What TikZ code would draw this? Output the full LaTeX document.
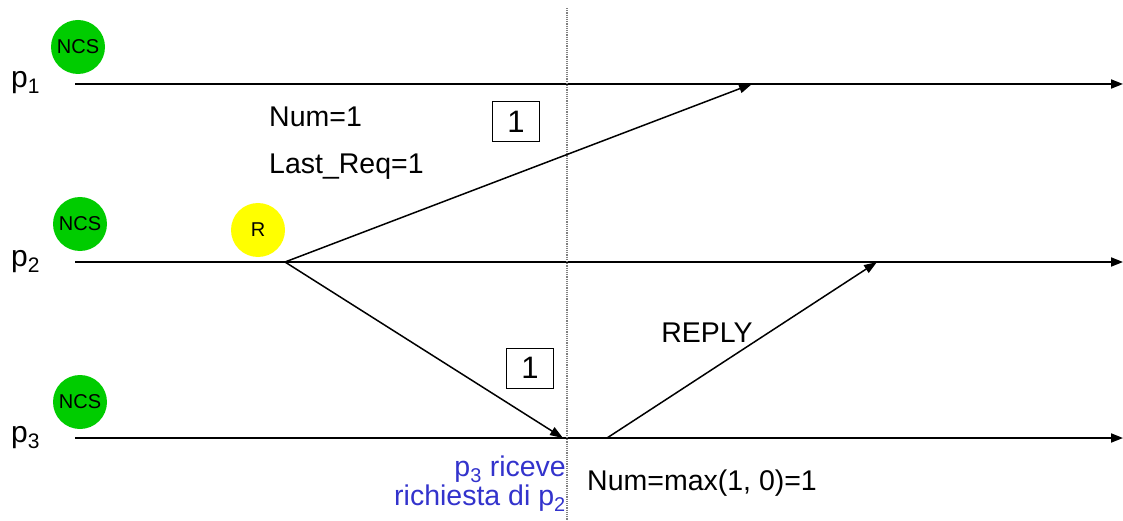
\documentclass[tikz,border=0pt]{standalone}
\usepackage{fontspec}
\setmainfont{Liberation Sans}
\usepackage{tikz}
\usetikzlibrary{arrows.meta,positioning}
\definecolor{NcsGreen}{HTML}{00CC00}
\definecolor{ReqYellow}{HTML}{FFFF00}
\definecolor{NoteBlue}{HTML}{3333CC}

\begin{document}
\begin{tikzpicture}[
  x=1pt,y=-1pt,
  timeline/.style={-{Triangle[length=12pt,width=9pt]},line width=1.8pt},
  msg/.style={-{Triangle[length=13pt,width=9pt]},line width=1.5pt},
  ncs/.style={circle,fill=NcsGreen,minimum size=54pt,inner sep=0pt,font=\fontsize{20}{20}\selectfont},
  req/.style={circle,fill=ReqYellow,minimum size=54pt,inner sep=0pt,font=\fontsize{20}{20}\selectfont},
  proc/.style={anchor=base west,inner sep=0pt,font=\fontsize{30}{30}\selectfont},
  txt/.style={inner sep=0pt,font=\fontsize{28.5}{29}\selectfont},
  numbox/.style={draw,line width=1pt,minimum width=47pt,minimum height=40pt,inner sep=0pt,font=\fontsize{31}{31}\selectfont}
]
\useasboundingbox (0,0) rectangle (1123,521);
% time lines
\coordinate (l1s) at (75,84);  \coordinate (l1e) at (1123,84);
\coordinate (l2s) at (75,262); \coordinate (l2e) at (1123,262);
\coordinate (l3s) at (75,438); \coordinate (l3e) at (1123,438);
\draw[timeline] (l1s) -- (l1e);
\draw[timeline] (l2s) -- (l2e);
\draw[timeline] (l3s) -- (l3e);
\node[proc] (p1) at (11,88) {p\textsubscript{1}};
\node[proc] (p2) at (11,266) {p\textsubscript{2}};
\node[proc] (p3) at (11,442) {p\textsubscript{3}};
% states
\node[ncs] (ncs1) at (78,47) {NCS};
\node[ncs] (ncs2) at (80,224) {NCS};
\node[ncs] (ncs3) at (80,402) {NCS};
\node[req] (r2) at (258,230) {R};
% cut
\coordinate (cuttop) at (567,8);
\coordinate (cutbot) at (567,521);
\draw[densely dotted,line width=1.2pt,gray] (cuttop) -- (cutbot);
% messages
\coordinate (send) at (285,262);
\coordinate (recv1) at (752,84);
\coordinate (recv3) at (563,438);
\coordinate (rsend) at (607,438);
\coordinate (rrecv) at (877,262);
\draw[msg] (send) -- (recv1);
\draw[msg] (send) -- (recv3);
\draw[msg] (rsend) -- (rrecv);
\node[numbox] (ts1) at (516,122) {1};
\node[numbox] (ts3) at (530,368) {1};
\node[txt,anchor=west] (num) at (269,117) {Num=1};
\node[txt,anchor=west] (last) at (269,167) {Last\_Req=1};
\node[txt] (reply) at (707,333) {REPLY};
\node[txt,anchor=east,align=right,text=NoteBlue] (note) at (566,484) {p\textsubscript{3} riceve\\richiesta di p\textsubscript{2}};
\node[txt,anchor=west] (nummax) at (587,483) {Num=max(1, 0)=1};
\end{tikzpicture}
\end{document}
